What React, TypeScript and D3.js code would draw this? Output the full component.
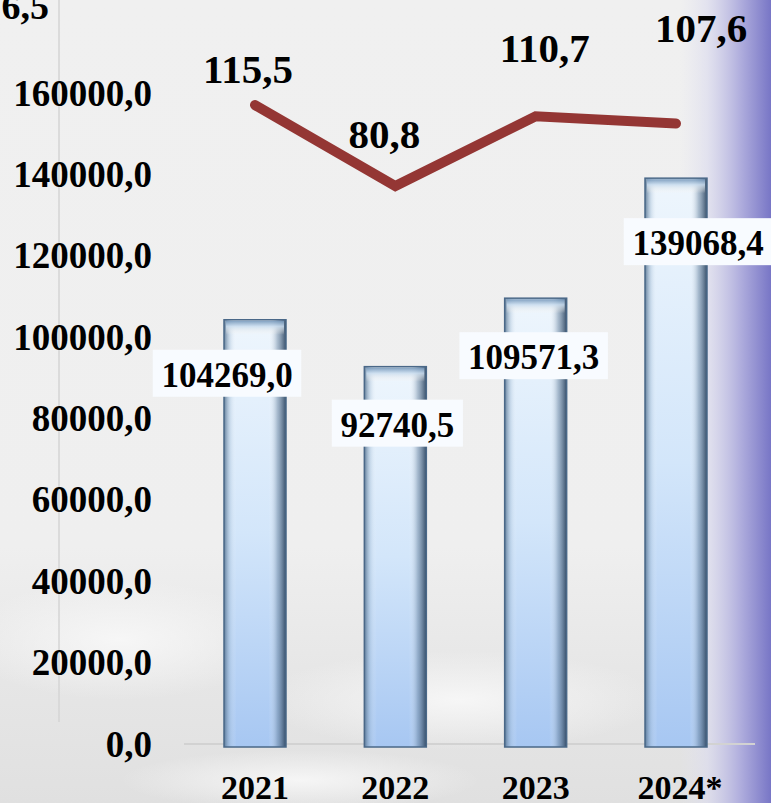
import React from "react";
import * as d3 from "d3";

// chart values
const years = ["2021", "2022", "2023", "2024*"];
const amounts = [104269.0, 92740.5, 109571.3, 139068.4];
const growth = [115.5, 80.8, 110.7, 107.6];
const yTicks = [0, 20000, 40000, 60000, 80000, 100000, 120000, 140000, 160000];
const secondaryTicks = [156.5];

// label nudges (layout only)
const barLabelDx = [-28, 2, -2, 22];
const barLabelDy = [67, 70, 71, 77];
const lineLabelDx = [-7, -11, 9, 25];
const lineLabelDy = [-22, -38, -54, -81];

const W = 771;
const H = 803;
const FONT = "'Liberation Serif', 'Times New Roman', serif";

const fmt = (v: number) => d3.format(".1f")(v).replace(".", ",");

export default function App() {
  const x = d3.scalePoint<string>().domain(years).range([255, 676]);
  const y = d3.scaleLinear().domain([0, 160000]).range([744, 93]);
  const ySec = d3.scaleLinear().domain([0, 160]).range([374.6, 1.2]);
  const barW = 62;

  const line = d3
    .line<number>()
    .x((_, i) => x(years[i]) as number)
    .y((d) => ySec(d));

  return (
    <svg
      width={W}
      height={H}
      style={{ position: "absolute", left: 0, top: 0, fontFamily: FONT }}
    >
      <defs>
        <linearGradient id="bgV" x1="0" y1="0" x2="0" y2="1">
          <stop offset="0" stopColor="#f0f0f0" />
          <stop offset="0.68" stopColor="#efefef" />
          <stop offset="0.85" stopColor="#e6e6e6" />
          <stop offset="1" stopColor="#e0e0e0" />
        </linearGradient>
        <linearGradient id="bgEdge" x1="0" y1="0" x2="1" y2="0">
          <stop offset="0" stopColor="#e4e4f0" stopOpacity="0" />
          <stop offset="0.3" stopColor="#dcdcee" stopOpacity="0.7" />
          <stop offset="0.65" stopColor="#b2b0de" />
          <stop offset="1" stopColor="#7876c6" />
        </linearGradient>
        <radialGradient id="cloud">
          <stop offset="0" stopColor="#f8f8f8" stopOpacity="0.9" />
          <stop offset="1" stopColor="#f8f8f8" stopOpacity="0" />
        </radialGradient>
        <linearGradient id="barV" x1="0" y1="0" x2="0" y2="1">
          <stop offset="0" stopColor="#eef6fd" />
          <stop offset="0.5" stopColor="#d3e6fa" />
          <stop offset="1" stopColor="#a7c7f2" />
        </linearGradient>
        <linearGradient id="barH" x1="0" y1="0" x2="1" y2="0">
          <stop offset="0" stopColor="#4c6a88" stopOpacity="0.85" />
          <stop offset="0.1" stopColor="#9fb8d0" stopOpacity="0.35" />
          <stop offset="0.2" stopColor="#ffffff" stopOpacity="0" />
          <stop offset="0.72" stopColor="#ffffff" stopOpacity="0" />
          <stop offset="0.86" stopColor="#6d87a2" stopOpacity="0.5" />
          <stop offset="1" stopColor="#2f4762" stopOpacity="0.95" />
        </linearGradient>
        <linearGradient id="cap" x1="0" y1="0" x2="0" y2="1">
          <stop offset="0" stopColor="#6f92b6" />
          <stop offset="0.4" stopColor="#c9dcee" />
          <stop offset="1" stopColor="#fbf3ea" stopOpacity="0" />
        </linearGradient>
      </defs>

      {/* background */}
      <rect width={W} height={H} fill="url(#bgV)" />
      <ellipse cx={120} cy={640} rx={160} ry={60} fill="url(#cloud)" />
      <ellipse cx={460} cy={700} rx={200} ry={50} fill="url(#cloud)" />
      <ellipse cx={300} cy={780} rx={180} ry={30} fill="url(#cloud)" />
      <rect x={680} width={W - 680} height={H} fill="url(#bgEdge)" />

      {/* axis lines */}
      <line x1={59} x2={59} y1={0} y2={722} stroke="#d4d4d4" strokeWidth={1.5} />
      <line x1={184} x2={755} y1={y(0)} y2={y(0)} stroke="#d2d2d2" strokeWidth={2} />

      {/* y tick labels */}
      {yTicks.map((t) => (
        <text
          key={t}
          x={152}
          y={y(t) + 12.5}
          textAnchor="end"
          fontSize={37}
          fontWeight="bold"
          fill="#000"
        >
          {fmt(t)}
        </text>
      ))}
      {/* secondary axis label, only its tail visible at the left edge */}
      {secondaryTicks.map((t) => (
        <text
          key={t}
          x={49}
          y={ySec(t) + 10}
          textAnchor="end"
          fontSize={38}
          fontWeight="bold"
          fill="#000"
        >
          {fmt(t).slice(-3)}
        </text>
      ))}

      {/* bars */}
      {amounts.map((v, i) => {
        const cx = x(years[i]) as number;
        const top = y(v);
        const h = y(0) - top + 3;
        return (
          <g key={years[i]}>
            <rect x={cx - barW / 2} y={top} width={barW} height={h} fill="url(#barV)" />
            <rect x={cx - barW / 2} y={top} width={barW} height={h} fill="url(#barH)" />
            <rect x={cx - barW / 2 + 2} y={top + 1} width={barW - 4} height={14} fill="url(#cap)" opacity={0.85} />
            <rect
              x={cx - barW / 2}
              y={top}
              width={barW}
              height={h}
              fill="none"
              stroke="#4a6888"
              strokeWidth={1.5}
            />
          </g>
        );
      })}

      {/* bar value labels */}
      {amounts.map((v, i) => {
        const cx = (x(years[i]) as number) + barLabelDx[i];
        const base = y(v) + barLabelDy[i];
        const tw = fmt(v).length * 17.4 - 8.7;
        return (
          <g key={"bl" + i}>
            <rect x={cx - tw / 2 - 9} y={base - 37} width={tw + 18} height={47} fill="#f8fbff" />
            <text x={cx} y={base} textAnchor="middle" fontSize={35} fontWeight="bold" fill="#000">
              {fmt(v)}
            </text>
          </g>
        );
      })}

      {/* growth line */}
      <path
        d={line(growth) ?? ""}
        fill="none"
        stroke="#943634"
        strokeWidth={10}
        strokeLinecap="round"
        strokeLinejoin="miter"
      />
      {growth.map((g, i) => (
        <text
          key={"ll" + i}
          x={(x(years[i]) as number) + lineLabelDx[i]}
          y={ySec(g) + lineLabelDy[i]}
          textAnchor="middle"
          fontSize={41}
          fontWeight="bold"
          fill="#000"
        >
          {fmt(g)}
        </text>
      ))}

      {/* category labels */}
      {years.map((yr) => (
        <text
          key={yr}
          x={(x(yr) as number) + (yr.endsWith("*") ? 4 : 0)}
          y={799}
          textAnchor="middle"
          fontSize={34}
          fontWeight="bold"
          fill="#000"
        >
          {yr}
        </text>
      ))}
    </svg>
  );
}
